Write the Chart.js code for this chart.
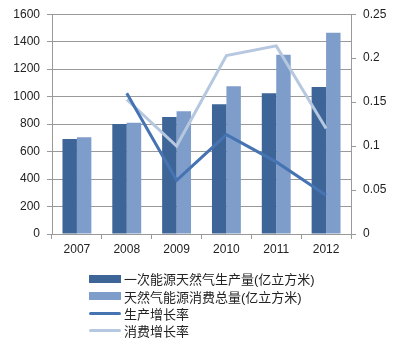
<!DOCTYPE html>
<html>
<head>
<meta charset="utf-8">
<script src="https://cdn.jsdelivr.net/npm/chart.js@4/dist/chart.umd.min.js"></script>
<style>
  body { margin:0; background:#fff; }
  #wrap { position:relative; width:408px; height:341px; }
  #legend { position:absolute; left:89px; top:270px; font-family:"Liberation Sans","Noto Sans CJK SC",sans-serif; font-size:13px; color:#222; }
  .row { height:17.4px; display:flex; align-items:center; }
  .mk { width:32px; margin-right:3px; }
  .bar { height:8px; }
  .ln { height:3px; border-radius:2px; }
</style>
</head>
<body>
<div id="wrap">
<canvas id="c" width="408" height="341"></canvas>
<div id="legend"></div>
</div>
<script>
const years = ['2007','2008','2009','2010','2011','2012'];
const production = [692, 800, 852, 945, 1025, 1070];
const consumption = [705, 810, 893, 1075, 1305, 1465];
const prodGrowth = [null, 0.160, 0.061, 0.113, 0.082, 0.044];
const consGrowth = [null, 0.153, 0.100, 0.203, 0.214, 0.120];
const names = ['一次能源天然气生产量(亿立方米)', '天然气能源消费总量(亿立方米)', '生产增长率', '消费增长率'];
const colors = ['#3D6597', '#7F9DCA', '#4674B2', '#B6C7E0'];

const font = { family: '"Liberation Sans","Noto Sans CJK SC",sans-serif', size: 12 };

new Chart('c', {
  type: 'bar',
  data: {
    labels: years,
    datasets: [
      { label: names[0], data: production, backgroundColor: colors[0], yAxisID: 'y', order: 2,
        barPercentage: 1, categoryPercentage: 0.58 },
      { label: names[1], data: consumption, backgroundColor: colors[1], yAxisID: 'y', order: 2,
        barPercentage: 1, categoryPercentage: 0.58 },
      { type: 'line', label: names[2], data: prodGrowth, borderColor: colors[2], borderWidth: 3,
        pointRadius: 0, yAxisID: 'y1', order: 1, tension: 0 },
      { type: 'line', label: names[3], data: consGrowth, borderColor: colors[3], borderWidth: 3,
        pointRadius: 0, yAxisID: 'y1', order: 1, tension: 0 }
    ]
  },
  options: {
    responsive: false,
    animation: false,
    layout: { padding: { top: 12, right: 0, left: 0, bottom: 0 } },
    plugins: { legend: { display: false }, tooltip: { enabled: false } },
    scales: {
      x: {
        offset: true,
        grid: { offset: true, drawOnChartArea: false, color: '#999', tickLength: 5 },
        border: { color: '#999' },
        ticks: { color: '#222', font: font, padding: 3 },
        afterFit: s => { s.height = 107; }
      },
      y: {
        position: 'left', min: 0, max: 1600,
        grid: { color: '#999', tickLength: 5 },
        border: { color: '#999' },
        ticks: { stepSize: 200, color: '#222', font: font, padding: 7,
          callback: v => String(v) },
        afterFit: s => { s.width = 52; }
      },
      y1: {
        position: 'right', min: 0, max: 0.25,
        grid: { drawOnChartArea: false, color: '#999', tickLength: 5 },
        border: { color: '#999' },
        ticks: { stepSize: 0.05, color: '#222', font: font, padding: 7,
          callback: v => String(+v.toFixed(2)) },
        afterFit: s => { s.width = 57; }
      }
    }
  }
});

const lg = document.getElementById('legend');
names.forEach((n, i) => {
  const r = document.createElement('div');
  r.className = 'row';
  r.innerHTML = '<div class="mk ' + (i < 2 ? 'bar' : 'ln') + '" style="background:' + colors[i] + '"></div><span>' + n + '</span>';
  lg.appendChild(r);
});
</script>
</body>
</html>
